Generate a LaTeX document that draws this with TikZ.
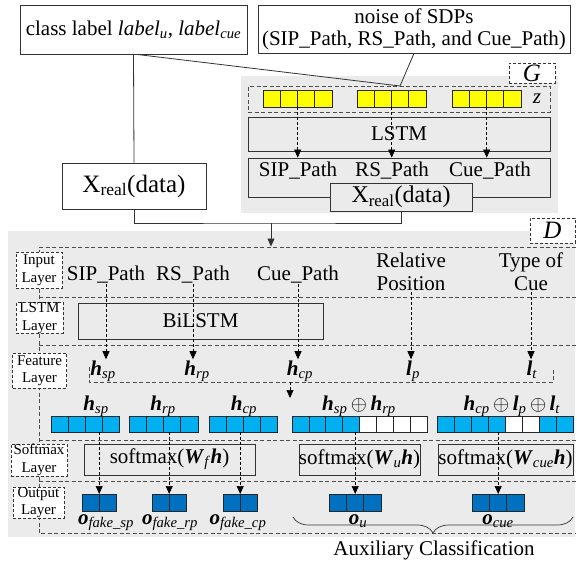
\documentclass[tikz,border=0pt]{standalone}
\usepackage{fontspec}
\setmainfont{Liberation Serif}
\usetikzlibrary{decorations.pathreplacing,arrows.meta,calc}
\definecolor{bgg}{HTML}{EBEBEB}
\definecolor{yel}{HTML}{FFFF00}
\definecolor{cya}{HTML}{00B0F0}
\definecolor{dbl}{HTML}{0070C0}
\newcommand\bi[1]{\textbf{\textit{#1}}}
\newcommand\sbi[1]{\textsubscript{\textit{#1}}}
% name, x, y, cell w, cell h, total w, colours
\newcommand\cellrow[7]{%
  \foreach \cc [count=\ii from 0] in {#7} {\draw[cellline, fill=\cc] ({#2+\ii*#4},#3) rectangle ++(#4,#5);}
  \node[inner sep=0pt, minimum width=#6pt, minimum height=#5pt, anchor=north west] (#1) at (#2,#3) {};
}
\begin{document}
\begin{tikzpicture}[x=1pt,y=-1pt,font=\fontsize{21}{23}\selectfont,
 box/.style={draw=black!80, line width=0.8pt, inner sep=0pt},
 lbox/.style={draw=black!80, dash pattern=on 3pt off 2pt, line width=0.8pt, fill=white, inner sep=0pt, align=center, font=\fontsize{15}{17.5}\selectfont},
 layer/.style={draw=black!70, dash pattern=on 4pt off 2.5pt, line width=0.8pt},
 darr/.style={draw=black, dash pattern=on 3pt off 2pt, line width=0.7pt, -{Triangle[length=8pt,width=7pt]}},
 conn/.style={draw=black!80, line width=0.8pt},
 cellline/.style={draw=black!85, line width=0.7pt},
 txt/.style={inner sep=1pt},
]
\useasboundingbox (0,0) rectangle (577,563);
\fill[white] (0,0) rectangle (577,563);

% ---------- top boxes
\node[box, minimum width=227pt, minimum height=49pt] (cls) at (133.5,29.5) {class label \textit{label}\sbi{u}, \textit{label}\sbi{cue}};
\node[box, minimum width=312pt, minimum height=48pt, align=center, font=\fontsize{21}{22}\selectfont] (noise) at (414,29) {noise of SDPs\\(SIP\_Path, RS\_Path, and Cue\_Path)};

% ---------- G region
\fill[bgg] (241,76) rectangle (558,213);
\node[lbox, minimum width=46pt, minimum height=20pt, font=\fontsize{25}{25}\selectfont] (G) at (532,73) {\textit{G}};
\node[layer, minimum width=302pt, minimum height=26pt, inner sep=0pt] (zb) at (399,99) {};
\cellrow{y1}{263}{90}{17.25}{17}{69}{yel,yel,yel,yel}
\cellrow{y2}{357}{90}{17.25}{17}{69}{yel,yel,yel,yel}
\cellrow{y3}{452}{90}{17.25}{17}{69}{yel,yel,yel,yel}
\node[txt, font=\fontsize{21}{21}\selectfont\itshape] (z) at (537,99) {z};
\node[box, fill=bgg, minimum width=302pt, minimum height=34pt] (lstm) at (399,134) {LSTM};
\node[box, fill=bgg, minimum width=302pt, minimum height=39pt] (gp) at (399,177.5) {};
\node[txt, anchor=base] (gsip) at (298,176) {SIP\_Path};
\node[txt, anchor=base] (grs) at (392,176) {RS\_Path};
\node[txt, anchor=base] (gcue) at (490,176) {Cue\_Path};
\node[box, fill=bgg, minimum width=142pt, minimum height=28pt, font=\fontsize{24}{24}\selectfont] (xi) at (401,197) {X\textsubscript{real}(data)};
\draw[darr] (y1.south) -- (y1.south |- gp.north);
\draw[darr] (y2.south) -- (y2.south |- gp.north);
\draw[darr] (y3.south) -- (y3.south |- gp.north);

% ---------- left real data box and connectors
\node[box, minimum width=144pt, minimum height=46pt, font=\fontsize{25}{25}\selectfont] (xl) at (134,186) {X\textsubscript{real}(data)};
\coordinate (zin) at (400,86);
\draw[conn] (cls.south) -- (xl.north);
\draw[conn] ([xshift=3pt]cls.south) -- (zin);
\draw[conn] (noise.south) -- (zin);
\coordinate (jn) at (271,223);
\draw[conn] (xl.south) |- (jn) -| (xi.south);

% ---------- D region
\fill[bgg] (8,231) rectangle (575,537);
\node[lbox, minimum width=45pt, minimum height=25pt, font=\fontsize{25}{25}\selectfont] (D) at (552.5,230.5) {\textit{D}};
\coordinate (dtop) at (271,246.5);
\draw[conn, -{Triangle[length=8pt,width=7pt]}] (jn) -- (dtop);

% layer separators
\draw[layer] (576,247) -- (39,247) -- (39,533) -- (576,533);
\draw[layer] (39,297) -- (576,297);
\draw[layer] (39,345) -- (576,345);
\draw[layer] (39,440) -- (576,440);
\draw[layer] (39,481) -- (576,481);
\draw[layer] (89,367) -- (89,382) -- (553,382) -- (553,368);

% layer labels
\node[lbox, minimum width=46pt, minimum height=36pt] (lin) at (39,270) {Input\\Layer};
\node[lbox, minimum width=47pt, minimum height=30pt] (llstm) at (39.5,318) {LSTM\\Layer};
\node[lbox, minimum width=54pt, minimum height=35pt] (lfeat) at (39.5,370.5) {Feature\\Layer};
\node[lbox, minimum width=56pt, minimum height=32pt] (lsoft) at (39,460) {Softmax\\Layer};
\node[lbox, minimum width=51pt, minimum height=31pt] (lout) at (38.5,502.5) {Output\\Layer};

% input layer texts
\node[txt, anchor=base] (isip) at (106,280) {SIP\_Path};
\node[txt, anchor=base] (irs) at (193,280) {RS\_Path};
\node[txt, anchor=base] (icue) at (298,280) {Cue\_Path};
\node[txt, align=center] (irel) at (411,272) {Relative\\Position};
\node[txt, align=center] (itype) at (531,272) {Type of\\Cue};

% BiLSTM
\node[box, minimum width=245pt, minimum height=36pt] (bil) at (200.5,321) {BiLSTM};

% feature row 1
\node[txt, anchor=base] (f1) at (103,375) {\bi{h}\sbi{sp}};
\node[txt, anchor=base] (f2) at (197,375) {\bi{h}\sbi{rp}};
\node[txt, anchor=base] (f3) at (300,375) {\bi{h}\sbi{cp}};
\node[txt, anchor=base] (f4) at (413,375) {\bi{l}\sbi{p}};
\node[txt, anchor=base] (f5) at (532,375) {\bi{l}\sbi{t}};
\draw[darr] (isip.south) -- (isip.south |- f1.north);
\draw[darr] (irs.south) -- (irs.south |- f2.north);
\draw[darr] (icue.south) -- (icue.south |- f3.north);
\draw[darr] (irel.south) -- (irel.south |- f4.north);
\draw[darr] (itype.south) -- (itype.south |- f5.north);
\coordinate (cc1) at (290,382);
\coordinate (cc2) at (290,398);
\draw[darr] (cc1) -- (cc2);

% feature row 2
\node[txt, anchor=base] (c1l) at (96,410) {\bi{h}\sbi{sp}};
\node[txt, anchor=base] (c2l) at (163,410) {\bi{h}\sbi{rp}};
\node[txt, anchor=base] (c3l) at (244,410) {\bi{h}\sbi{cp}};
\node[txt, anchor=base] (c4l) at (359,410) {\bi{h}\sbi{sp}\,$\oplus$\,\bi{h}\sbi{rp}};
\node[txt, anchor=base] (c5l) at (512,410) {\bi{h}\sbi{cp}\,$\oplus$\,\bi{l}\sbi{p}\,$\oplus$\,\bi{l}\sbi{t}};
\cellrow{c1}{51}{416}{17}{16}{68}{cya,cya,cya,cya}
\cellrow{c2}{129}{416}{17.25}{16}{69}{cya,cya,cya,cya}
\cellrow{c3}{209}{416}{17}{16}{68}{cya,cya,cya,cya}
\cellrow{c4}{292}{416}{16.9}{16}{135.2}{cya,cya,cya,cya,white,white,white,white}
\cellrow{c5}{437}{416}{17}{16}{136}{cya,cya,cya,cya,white,white,cya,cya}

% softmax layer
\node[box, fill=bgg, minimum width=171pt, minimum height=31pt] (s1) at (169.5,459.5) {softmax(\bi{W}\sbi{f}\bi{h})};
\node[box, fill=bgg, minimum width=121pt, minimum height=31pt] (s2) at (359.5,459.5) {softmax(\bi{W}\sbi{u}\bi{h})};
\node[box, fill=bgg, minimum width=135pt, minimum height=31pt] (s3) at (505.5,459.5) {softmax(\bi{W}\sbi{cue}\bi{h})};

% output layer
\cellrow{o1}{82}{494}{17}{17}{34}{dbl,dbl}
\cellrow{o2}{152}{494}{17}{17}{34}{dbl,dbl}
\cellrow{o3}{223}{494}{17}{17}{34}{dbl,dbl}
\cellrow{o4}{329}{494}{17.33}{17}{52}{dbl,dbl,dbl}
\cellrow{o5}{472}{494}{17.33}{17}{52}{dbl,dbl,dbl}
\node[txt, anchor=base] (o1l) at (106,524) {\bi{o}\sbi{fake\_sp}};
\node[txt, anchor=base] (o2l) at (170,524) {\bi{o}\sbi{fake\_rp}};
\node[txt, anchor=base] (o3l) at (238,524) {\bi{o}\sbi{fake\_cp}};
\node[txt, anchor=base] (o4l) at (358,524) {\bi{o}\sbi{u}};
\node[txt, anchor=base] (o5l) at (498,524) {\bi{o}\sbi{cue}};

\draw[darr] (c1.south -| o1.north) -- (o1.north);
\draw[darr] (c2.south -| o2.north) -- (o2.north);
\draw[darr] (c3.south -| o3.north) -- (o3.north);
\draw[darr] (c4.south -| o4.north) -- (o4.north);
\draw[darr] (c5.south -| o5.north) -- (o5.north);

% brace
\coordinate (br1) at (293,517);
\coordinate (br2) at (573,517);
\draw[conn, line width=0.7pt, decorate, decoration={brace, mirror, amplitude=16pt}] (br1) -- (br2);
\node[txt, anchor=base] (aux) at (434,555) {Auxiliary Classification};
\end{tikzpicture}
\end{document}
